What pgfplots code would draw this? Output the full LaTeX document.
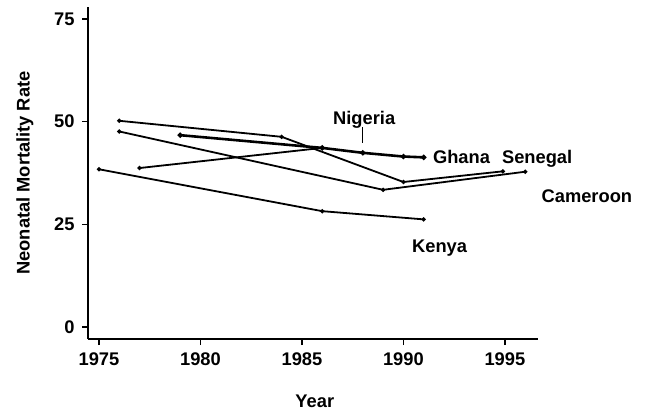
\documentclass[border=0pt]{standalone}
\usepackage{fontspec}
\setmainfont{Liberation Sans}
\usepackage{pgfplots}
\pgfplotsset{compat=1.18}
\newcommand\bigfont{\fontsize{18.3}{20}\selectfont\bfseries}
\pgfplotsset{myline/.style={black, mark=*, mark size=1.1pt, mark options={solid, fill=black}, line width=1.8pt}}
\begin{document}
\begin{tikzpicture}
\useasboundingbox (-88pt,-77pt) rectangle (558pt,339pt);
\begin{axis}[
  at={(0pt,0pt)}, anchor=south west,
  scale only axis, width=450pt, height=332pt,
  xmin=1974.46, xmax=1996.63, ymin=-2.92, ymax=77.9,
  axis lines=left, axis line style={-, line width=1.8pt},
  clip=false,
  xtick={1975,1980,1985,1990,1995},
  ytick={0,25,50,75},
  tick align=outside, major tick length=6pt,
  every tick/.style={black, line width=1.4pt},
  /pgf/number format/assume math mode=true,
  /pgf/number format/1000 sep={},
  every tick label/.append style={font=\bigfont},
  yticklabel style={xshift=-4pt},
  xticklabel style={yshift=-4pt},
  xlabel={Year},
  ylabel={Neonatal Mortality Rate},
  xlabel style={font=\bigfont, at={(axis description cs:0.504,-0.2078)}, anchor=base},
  ylabel style={font=\bigfont, at={(axis description cs:-0.14,0.5)}, anchor=center},
]
% Kenya
\addplot[myline] coordinates {(1975,38.4) (1986,28.2) (1991,26.2)};
% Senegal
\addplot[myline] coordinates {(1976,50.2) (1984,46.3) (1990,35.3) (1994.9,37.9)};
% Cameroon
\addplot[myline] coordinates {(1976,47.6) (1989,33.4) (1996,37.8)};
% Ghana
\addplot[myline, line width=2.6pt] coordinates {(1979,46.7) (1986,43.6) (1988,42.4) (1990,41.5) (1991,41.3)};
% Nigeria
\addplot[myline] coordinates {(1977,38.7) (1986,43.6)};
\draw[line width=1.2pt] (axis cs:1988,48.6) -- (axis cs:1988,44.8);
\node[font=\bigfont, anchor=base west, inner sep=0pt] at (axis cs:1986.53,49.2) {Nigeria};
\node[font=\bigfont, anchor=base west, inner sep=0pt] at (axis cs:1991.45,39.7) {Ghana};
\node[font=\bigfont, anchor=base west, inner sep=0pt] at (axis cs:1994.85,39.7) {Senegal};
\node[font=\bigfont, anchor=base west, inner sep=0pt] at (axis cs:1996.8,30.2) {Cameroon};
\node[font=\bigfont, anchor=base west, inner sep=0pt] at (axis cs:1990.42,18.1) {Kenya};
\end{axis}
\end{tikzpicture}
\end{document}
